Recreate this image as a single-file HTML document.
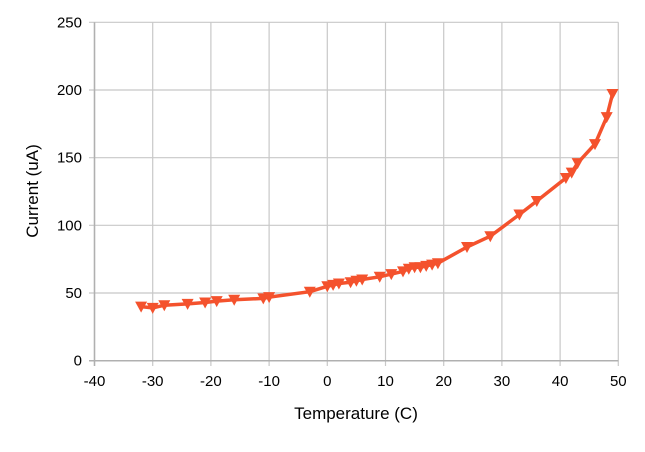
<!DOCTYPE html>
<html><head><meta charset="utf-8"><style>body{margin:0;background:#fff}svg{display:block}</style></head><body>
<svg width="645" height="452" xmlns="http://www.w3.org/2000/svg" xmlns:xlink="http://www.w3.org/1999/xlink" font-family="Liberation Sans, sans-serif">
<defs><polygon id="m" points="-6,-5 6,-5 0,6" fill="#f4522d"/></defs>
<g stroke="#c8c8c8" stroke-width="1.2">
<line x1="94.5" y1="22.3" x2="94.5" y2="366"/><line x1="152.7" y1="22.3" x2="152.7" y2="366"/><line x1="210.9" y1="22.3" x2="210.9" y2="366"/><line x1="269.1" y1="22.3" x2="269.1" y2="366"/><line x1="327.3" y1="22.3" x2="327.3" y2="366"/><line x1="385.5" y1="22.3" x2="385.5" y2="366"/><line x1="443.7" y1="22.3" x2="443.7" y2="366"/><line x1="501.9" y1="22.3" x2="501.9" y2="366"/><line x1="560.1" y1="22.3" x2="560.1" y2="366"/><line x1="618.3" y1="22.3" x2="618.3" y2="366"/>
<line x1="89" y1="22.3" x2="618.3" y2="22.3"/><line x1="89" y1="90" x2="618.3" y2="90"/><line x1="89" y1="157.7" x2="618.3" y2="157.7"/><line x1="89" y1="225.3" x2="618.3" y2="225.3"/><line x1="89" y1="293" x2="618.3" y2="293"/>
</g>
<line x1="89" y1="360.7" x2="618.3" y2="360.7" stroke="#b0b0b0" stroke-width="1.5"/>
<line x1="94.5" y1="22.3" x2="94.5" y2="366" stroke="#b0b0b0" stroke-width="1.5"/>
<g font-size="15" text-anchor="middle" fill="#000">
<text x="94.5" y="386">-40</text><text x="152.7" y="386">-30</text><text x="210.9" y="386">-20</text><text x="269.1" y="386">-10</text><text x="327.3" y="386">0</text><text x="385.5" y="386">10</text><text x="443.7" y="386">20</text><text x="501.9" y="386">30</text><text x="560.1" y="386">40</text><text x="618.3" y="386">50</text>
</g>
<g font-size="15" text-anchor="end" fill="#000">
<text x="82" y="27.3">250</text><text x="82" y="95">200</text><text x="82" y="162.7">150</text><text x="82" y="230.3">100</text><text x="82" y="298">50</text><text x="82" y="365.7">0</text>
</g>
<polyline fill="none" stroke="#f4522d" stroke-width="3.5" stroke-linejoin="round" points="141.1,306.6 152.7,307.9 164.3,305.2 187.6,303.9 205.1,302.5 216.7,301.1 234.2,299.8 263.3,298.4 269.1,297.1 309.8,291.7 327.3,286.3 333.1,284.9 338.9,283.5 350.6,282.2 356.4,280.8 362.2,279.5 379.7,276.8 391.3,274.1 403,271.4 408.8,268.7 414.6,267.3 420.4,267.3 426.2,265.9 432.1,264.6 437.9,263.2 467,247 490.3,236.2 519.4,214.5 536.8,201 565.9,178 571.7,172.6 577.6,163.1 595,144.1 606.7,117.1 612.5,94"/>
<g>
<use xlink:href="#m" x="141.1" y="306.6"/><use xlink:href="#m" x="152.7" y="307.9"/><use xlink:href="#m" x="164.3" y="305.2"/><use xlink:href="#m" x="187.6" y="303.9"/><use xlink:href="#m" x="205.1" y="302.5"/><use xlink:href="#m" x="216.7" y="301.1"/><use xlink:href="#m" x="234.2" y="299.8"/><use xlink:href="#m" x="263.3" y="298.4"/><use xlink:href="#m" x="269.1" y="297.1"/><use xlink:href="#m" x="309.8" y="291.7"/><use xlink:href="#m" x="327.3" y="286.3"/><use xlink:href="#m" x="333.1" y="284.9"/><use xlink:href="#m" x="338.9" y="283.5"/><use xlink:href="#m" x="350.6" y="282.2"/><use xlink:href="#m" x="356.4" y="280.8"/><use xlink:href="#m" x="362.2" y="279.5"/><use xlink:href="#m" x="379.7" y="276.8"/><use xlink:href="#m" x="391.3" y="274.1"/><use xlink:href="#m" x="403" y="271.4"/><use xlink:href="#m" x="408.8" y="268.7"/><use xlink:href="#m" x="414.6" y="267.3"/><use xlink:href="#m" x="420.4" y="267.3"/><use xlink:href="#m" x="426.2" y="265.9"/><use xlink:href="#m" x="432.1" y="264.6"/><use xlink:href="#m" x="437.9" y="263.2"/><use xlink:href="#m" x="467" y="247"/><use xlink:href="#m" x="490.3" y="236.2"/><use xlink:href="#m" x="519.4" y="214.5"/><use xlink:href="#m" x="536.8" y="201"/><use xlink:href="#m" x="565.9" y="178"/><use xlink:href="#m" x="571.7" y="172.6"/><use xlink:href="#m" x="577.6" y="163.1"/><use xlink:href="#m" x="595" y="144.1"/><use xlink:href="#m" x="606.7" y="117.1"/><use xlink:href="#m" x="612.5" y="94"/>
</g>
<text x="356" y="419" font-size="17" text-anchor="middle" fill="#000">Temperature  (C)</text>
<text transform="translate(38,191) rotate(-90)" font-size="17" text-anchor="middle" fill="#000">Current (uA)</text>
</svg>
</body></html>
